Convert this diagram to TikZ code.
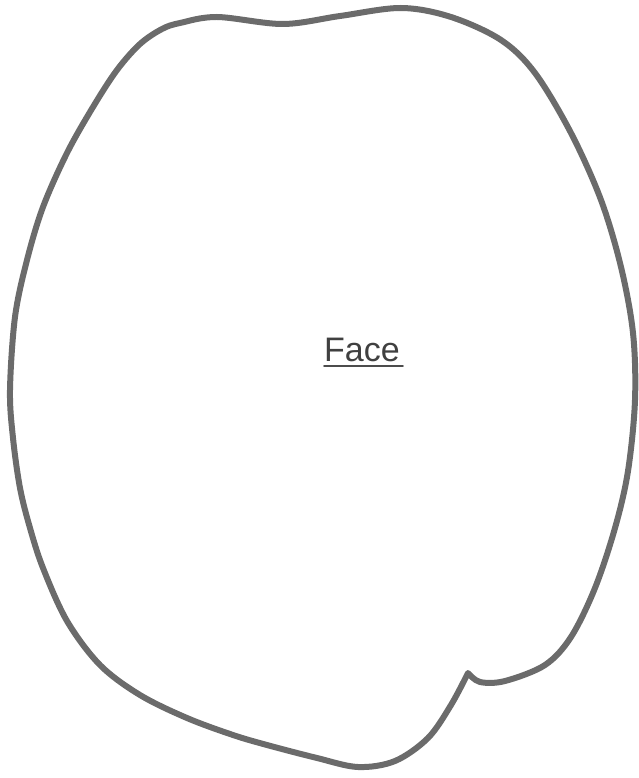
\documentclass[tikz,border=0pt]{standalone}
\usepackage{fontspec}
\setmainfont{Liberation Sans}
\usetikzlibrary{positioning}

\begin{document}
\begin{tikzpicture}[x=1pt, y=-1pt, line cap=round, line join=round]
  \useasboundingbox (0,0) rectangle (638,778);
  % outline of the face, starting at the notch
  \draw[black!58, line width=6pt] plot[smooth, tension=0.55] coordinates {
    (468,673) (480,682) (505,681) (545,665) (571,637) (595,588) (615,528)
    (628,471) (635,400) (633,333) (621,267) (601,200) (571,133) (535,73)
    (501,40) (451,17) (401,8) (340,16) (283,24) (217,17) (180,23) (162,29)
    (140,44) (117,70) (93,107) (67,153) (43,207) (27,260) (15,317) (10,390)
    (13,438) (20,488) (30,528) (43,568) (67,621) (100,665) (140,695)
    (187,718) (233,735) (267,745) (317,758) (358,767) (395,761) (428,738)
    (451,705) (468,673)} -- cycle;
  \node[anchor=base west, inner sep=0pt, text=black!75,
        font=\fontsize{34}{38}\selectfont] (face) at (324,361) {Face};
  \draw[black!70, line width=1.8pt] ([yshift=-5pt]face.base west) -- ([xshift=3pt, yshift=-5pt]face.base east);
\end{tikzpicture}
\end{document}
